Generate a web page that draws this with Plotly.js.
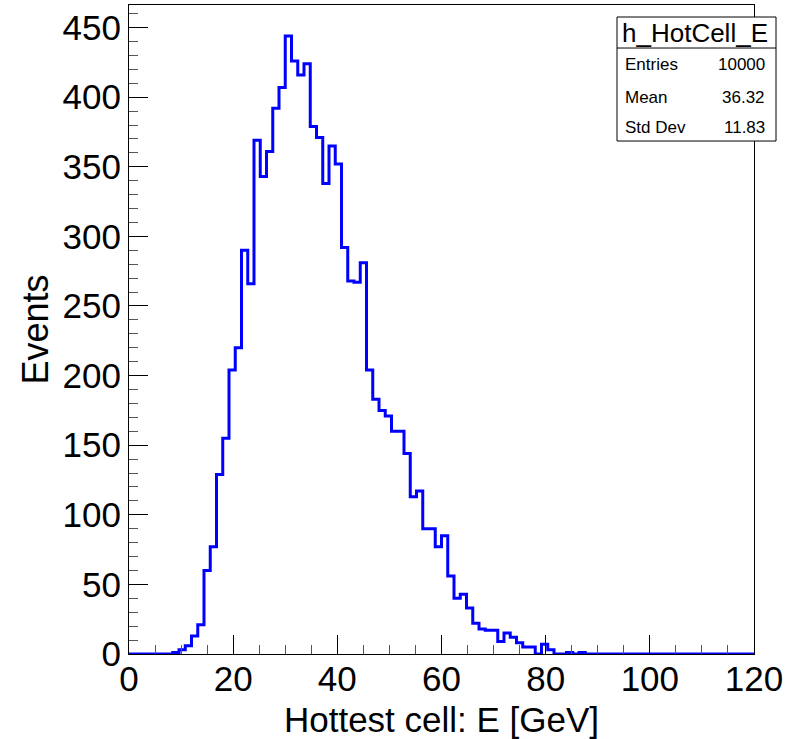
<!DOCTYPE html>
<html>
<head>
<meta charset="utf-8">
<script src="https://cdn.plot.ly/plotly-3.0.1.min.js"></script>
<style>
  html, body { margin: 0; padding: 0; background: #ffffff; }
  #chart { width: 787px; height: 739px; }
</style>
</head>
<body>
<div id="chart"></div>
<script>
// Histogram binning (ROOT TH1: 100 bins from 0 to 120 GeV)
const nBins = 100;
const xMin = 0;
const xMax = 120;

// Bin contents (bins 0..99)
const counts = [
  0, 0, 0, 0, 0, 0, 0, 1, 3, 6,
  13, 21, 60, 77, 129, 155, 204, 220, 290, 266,
  369, 343, 361, 392, 407, 444, 426, 416, 424, 379,
  371, 338, 365, 352, 292, 268, 267, 281, 204, 183,
  175, 171, 160, 160, 144, 113, 117, 90, 90, 77,
  85, 56, 40, 43, 33, 22, 18, 17, 17, 9,
  15, 12, 8, 5, 5, 0, 7, 3, 0, 0,
  1, 0, 1, 0, 0, 0, 0, 0, 0, 0,
  0, 0, 0, 0, 0, 0, 0, 0, 0, 0,
  0, 0, 0, 0, 0, 0, 0, 0, 0, 0
];

// Stats box text
const histName = "h_HotCell_E";
const statLabels = ["Entries", "Mean", "Std Dev"];
const statValues = ["10000", "36.32", "11.83"];

const xTitle = "Hottest cell: E [GeV]";
const yTitle = "Events";

// Build step outline from bin edges
const binW = (xMax - xMin) / nBins;
const edges = [];
for (let i = 0; i <= nBins; i++) edges.push(xMin + i * binW);
const stepY = counts.concat([counts[counts.length - 1]]);

const yMax = Math.max(...counts) * 1.05;

const FONT = "Liberation Sans, Arial, Helvetica, sans-serif";

const trace = {
  type: "scatter",
  mode: "lines",
  x: edges,
  y: stepY,
  line: { shape: "hv", color: "#0000ff", width: 3 },
  hoverinfo: "skip",
  showlegend: false
};

// Stats box geometry (paper coords)
const bx0 = 0.7808, bx1 = 1.0352, byTop = 0.9815, byBot = 0.7904, bySep = 0.9337;
const rowY = [0.9076, 0.8582, 0.8120];

const annotations = [
  {
    xref: "paper", yref: "paper", x: (bx0 + bx1) / 2 - 0.003, y: (byTop + bySep) / 2,
    text: histName, showarrow: false, xanchor: "center", yanchor: "middle",
    font: { family: FONT, size: 26, color: "#000" }
  }
];
statLabels.forEach((lab, i) => {
  annotations.push({
    xref: "paper", yref: "paper", x: 0.790, y: rowY[i], text: lab,
    showarrow: false, xanchor: "left", yanchor: "middle",
    font: { family: FONT, size: 17, color: "#000" }
  });
  annotations.push({
    xref: "paper", yref: "paper", x: 1.0208, y: rowY[i], text: statValues[i],
    showarrow: false, xanchor: "right", yanchor: "middle",
    font: { family: FONT, size: 17, color: "#000" }
  });
});

const layout = {
  width: 787,
  height: 739,
  paper_bgcolor: "#ffffff",
  plot_bgcolor: "#ffffff",
  margin: { l: 129, r: 33, t: 5, b: 85 },
  font: { family: FONT, color: "#000" },
  xaxis: {
    range: [xMin, xMax],
    showgrid: false,
    zeroline: false,
    showline: true,
    linecolor: "#000",
    linewidth: 1,
    mirror: true,
    ticks: "inside",
    ticklen: 19,
    tickcolor: "#000",
    tickwidth: 1,
    dtick: 20,
    tick0: 0,
    ticklabelstandoff: -6,
    minor: { dtick: 5, ticks: "inside", ticklen: 9, tickcolor: "#555", showgrid: false },
    tickfont: { family: FONT, size: 35, color: "#000" },
    title: { text: xTitle, font: { family: FONT, size: 35, color: "#000" }, standoff: 12 },
    automargin: false
  },
  yaxis: {
    range: [0, yMax],
    showgrid: false,
    zeroline: false,
    showline: true,
    linecolor: "#000",
    linewidth: 1,
    mirror: true,
    ticks: "inside",
    ticklen: 19,
    tickcolor: "#000",
    tickwidth: 1,
    dtick: 50,
    tick0: 0,
    minor: { dtick: 10, ticks: "inside", ticklen: 9, tickcolor: "#555", showgrid: false },
    tickfont: { family: FONT, size: 35, color: "#000" },
    title: { text: yTitle, font: { family: FONT, size: 36, color: "#000" }, standoff: 2 },
    automargin: false
  },
  shapes: [
    { type: "rect", xref: "paper", yref: "paper", x0: bx0, x1: bx1, y0: byBot, y1: byTop,
      line: { color: "#000", width: 1 }, fillcolor: "#ffffff", layer: "above" },
    { type: "line", xref: "paper", yref: "paper", x0: bx0, x1: bx1, y0: bySep, y1: bySep,
      line: { color: "#000", width: 1 }, layer: "above" }
  ],
  annotations: annotations
};

Plotly.newPlot("chart", [trace], layout, { displayModeBar: false, staticPlot: true });
</script>
</body>
</html>
